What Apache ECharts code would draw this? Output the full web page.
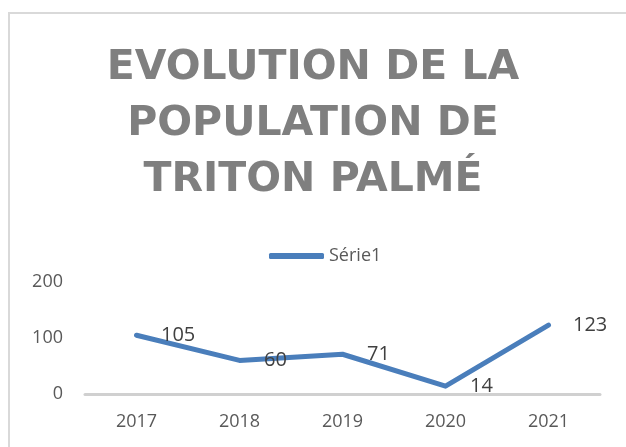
<!DOCTYPE html>
<html lang="fr">
<head>
    <meta charset="UTF-8">
    <title>Triton palmé</title>
    <script type="text/javascript" src="https://cdn.jsdelivr.net/npm/echarts@6/dist/echarts.min.js"></script>
    <style>
        html, body { margin: 0; padding: 0; background: #fff; }
    </style>
</head>
<body>
<div id="main" style="width: 626px;height:447px"></div>

<script type="text/javascript">
    var annees = ['2017', '2018', '2019', '2020', '2021']
    var population = [105, 60, 71, 14, 123]
    var nomSerie = 'Série1'
    var titre = 'EVOLUTION DE LA\nPOPULATION DE\nTRITON PALMÉ'

    var myChart = echarts.init(document.getElementById('main'));
    var option = {
        animation: false,
        backgroundColor: '#ffffff',
        graphic: [{
            type: 'rect',
            shape: { x: 9, y: 13, width: 700, height: 500 },
            style: { fill: 'none', stroke: '#d9d9d9', lineWidth: 2 },
            silent: true
        }],
        title: {
            text: titre,
            left: 'center',
            top: 35,
            textStyle: {
                fontFamily: 'DejaVu Sans',
                fontWeight: 'bold',
                fontSize: 41,
                lineHeight: 56,
                color: '#7f7f7f'
            }
        },
        legend: {
            data: [{ name: nomSerie, icon: 'roundRect' }],
            left: 264,
            top: 242,
            itemWidth: 55,
            itemHeight: 6,
            textStyle: { fontFamily: 'Open Sans', fontSize: 18, color: '#595959' }
        },
        grid: { left: 85, right: 26, top: 282, bottom: 53 },
        xAxis: {
            type: 'category',
            data: annees,
            axisLine: { lineStyle: { color: '#d0d0d0', width: 3 } },
            axisTick: { show: false },
            axisLabel: { fontFamily: 'Open Sans', fontSize: 18, color: '#595959', margin: 19 }
        },
        yAxis: {
            type: 'value',
            min: 0,
            max: 200,
            interval: 100,
            splitLine: { show: false },
            axisLine: { show: false },
            axisLabel: { fontFamily: 'Open Sans', fontSize: 18, color: '#595959', margin: 22 }
        },
        series: [{
            name: nomSerie,
            type: 'line',
            data: population,
            symbol: 'circle',
            symbolSize: 1,
            showSymbol: true,
            lineStyle: { color: '#4a7ebb', width: 5, cap: 'round', join: 'round' },
            itemStyle: { color: '#4a7ebb' },
            label: {
                show: true,
                position: 'right',
                distance: 24,
                fontFamily: 'Open Sans',
                fontSize: 20,
                color: '#404040'
            }
        }]
    };
    option && myChart.setOption(option);
</script>
</body>
</html>
